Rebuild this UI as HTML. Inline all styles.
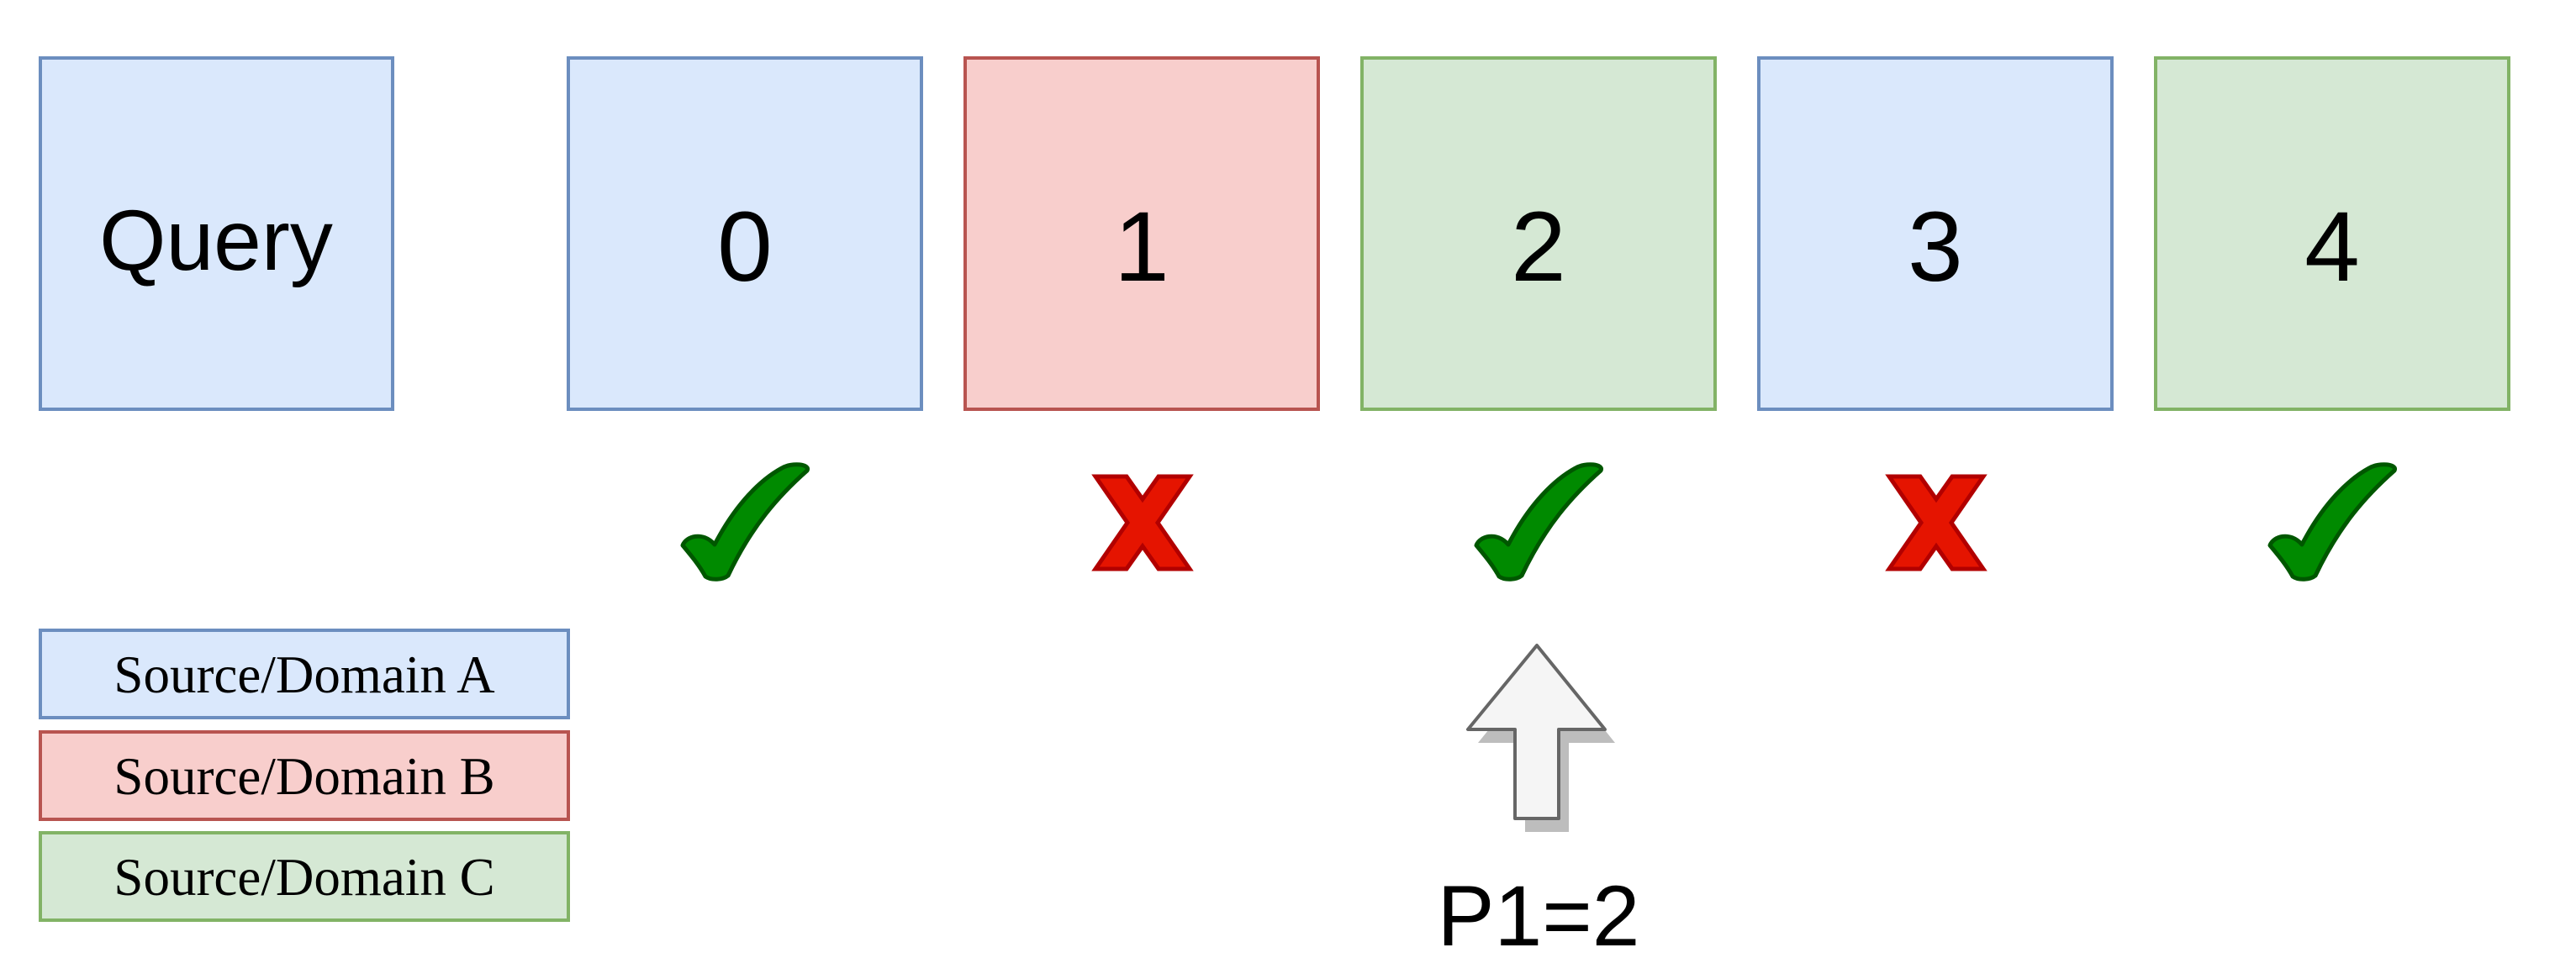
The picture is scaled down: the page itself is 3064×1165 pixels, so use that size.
<!DOCTYPE html>
<html><head><style>
body{margin:0;background:#fff;width:3064px;height:1160px;overflow:hidden}
</style></head><body>
<svg width="3064" height="1160" xmlns="http://www.w3.org/2000/svg">
<defs>
<g id="chk"><path d="M-74,649 C-70,638 -50,632 -36,648 C-10,598 20,570 44,557 C56,550 78,552 74,560 C40,590 8,626 -20,685 C-26,690 -40,691 -47,686 C-54,673 -64,661 -74,649 Z" fill="#008a00" stroke="#005700" stroke-width="5" stroke-linejoin="round"/></g>
<g id="x"><polygon points="-56,567 -19,567 0,594 19,567 56,567 18,622 56,677 19,677 0,650 -19,677 -56,677 -18,622" fill="#e51400" stroke="#b20000" stroke-width="5" stroke-linejoin="miter"/></g>
</defs>
<g stroke-width="4" font-family="Liberation Sans, Arial, sans-serif" text-anchor="middle">
<rect x="48" y="69" width="419" height="418" fill="#dae8fc" stroke="#6c8ebf"/>
<text x="257" y="321" font-size="102">Query</text>
<rect x="676" y="69" width="420" height="418" fill="#dae8fc" stroke="#6c8ebf"/>
<text x="886" y="334" font-size="118">0</text>
<rect x="1148" y="69" width="420" height="418" fill="#f8cecc" stroke="#b85450"/>
<text x="1358" y="334" font-size="118">1</text>
<rect x="1620" y="69" width="420" height="418" fill="#d5e8d4" stroke="#82b366"/>
<text x="1830" y="334" font-size="118">2</text>
<rect x="2092" y="69" width="420" height="418" fill="#dae8fc" stroke="#6c8ebf"/>
<text x="2302" y="334" font-size="118">3</text>
<rect x="2564" y="69" width="420" height="418" fill="#d5e8d4" stroke="#82b366"/>
<text x="2774" y="334" font-size="118">4</text>
</g>
<use href="#chk" x="886"/><use href="#chk" x="1830"/><use href="#chk" x="2774"/>
<use href="#x" x="1359"/><use href="#x" x="2303"/>
<g stroke-width="4" font-family="Liberation Serif, Times New Roman, serif" text-anchor="middle" font-size="63">
<rect x="48" y="750" width="628" height="104" fill="#dae8fc" stroke="#6c8ebf"/>
<text x="362" y="824">Source/Domain A</text>
<rect x="48" y="871" width="628" height="104" fill="#f8cecc" stroke="#b85450"/>
<text x="362" y="945">Source/Domain B</text>
<rect x="48" y="991" width="628" height="104" fill="#d5e8d4" stroke="#82b366"/>
<text x="362" y="1065">Source/Domain C</text>
</g>
<polygon points="1840,783 1758,884 1814,884 1814,990 1866,990 1866,884 1921,884" fill="#bdbdbd"/>
<polygon points="1828,768 1746,868 1802,868 1802,974 1854,974 1854,868 1909,868" fill="#f5f5f5" stroke="#666" stroke-width="4" stroke-linejoin="round"/>
<text x="1830" y="1125" font-family="Liberation Sans, Arial, sans-serif" font-size="102" text-anchor="middle">P1=2</text>
</svg>
</body></html>
